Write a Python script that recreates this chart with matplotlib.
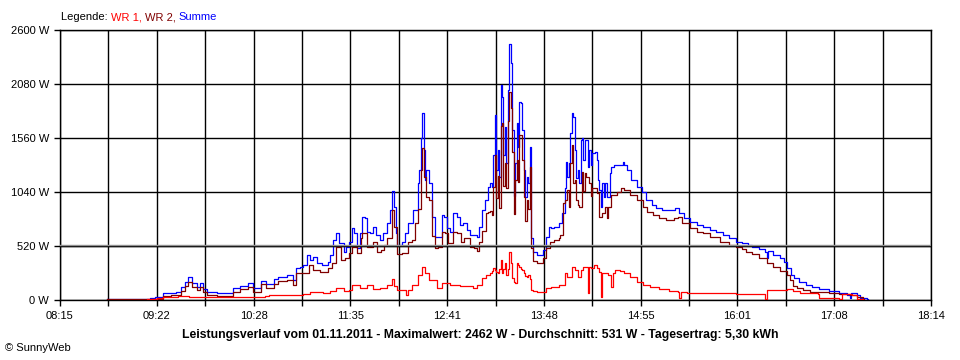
import matplotlib
matplotlib.use("Agg")
import matplotlib.pyplot as plt
from matplotlib.transforms import offset_copy

plt.rcParams['font.family'] = ['Liberation Sans', 'DejaVu Sans']
plt.rcParams['font.size'] = 8

# WR 1 (red)
wr1_times = ["09:15", "09:22", "09:26", "09:35", "09:36", "09:42", "09:44", "10:12", "10:15", "10:36",
             "10:39", "11:00", "11:02", "11:07", "11:16", "11:21", "11:25", "11:30", "11:34", "11:36",
             "11:41", "11:46", "11:50", "11:55", "12:00", "12:03", "12:05", "12:07", "12:12", "12:13",
             "12:14", "12:17", "12:21", "12:24", "12:26", "12:29", "12:34", "12:38", "12:43", "12:50",
             "12:59", "13:02", "13:05", "13:08", "13:11", "13:12", "13:13", "13:14", "13:15", "13:16",
             "13:17", "13:18", "13:19", "13:20", "13:21", "13:22", "13:23", "13:24", "13:25", "13:26",
             "13:27", "13:28", "13:29", "13:30", "13:31", "13:32", "13:33", "13:34", "13:35", "13:36",
             "13:37", "13:38", "13:39", "13:40", "13:43", "13:46", "13:49", "13:53", "13:58", "14:02",
             "14:04", "14:07", "14:09", "14:11", "14:13", "14:15", "14:17", "14:18", "14:19", "14:20",
             "14:22", "14:24", "14:26", "14:27", "14:28", "14:30", "14:32", "14:34", "14:35", "14:37",
             "14:40", "14:43", "14:47", "14:52", "14:56", "15:01", "15:07", "15:14", "15:20", "15:21",
             "15:22", "15:26", "15:35", "15:47", "16:00", "16:15", "16:20", "16:21", "16:35", "16:39",
             "16:44", "16:49", "16:56", "16:57", "17:04", "17:11", "17:13", "17:20", "17:23", "17:27"]
wr1 = [5, 15, 26, 28, 42, 42, 28, 28, 33, 35,
       45, 48, 61, 74, 67, 83, 116, 83, 99, 148,
       116, 148, 106, 116, 148, 205, 132, 99, 99, 52,
       99, 148, 244, 321, 257, 193, 116, 164, 140, 135,
       112, 144, 209, 241, 260, 280, 305, 290, 270, 257,
       300, 385, 257, 300, 353, 241, 300, 465, 353, 209,
       170, 161, 353, 340, 321, 300, 289, 260, 230, 225,
       241, 200, 96, 90, 80, 80, 112, 128, 144, 257,
       225, 321, 289, 225, 289, 321, 321, 64, 321, 305,
       337, 305, 270, 32, 257, 257, 241, 128, 257, 289,
       283, 257, 225, 177, 144, 122, 103, 90, 80, 20,
       80, 64, 64, 64, 58, 62, 5, 96, 103, 87,
       71, 64, 58, 16, 16, 10, 58, 48, 6, 0]

# WR 2 (dark red)
wr2_times = ["08:47", "09:03", "09:17", "09:22", "09:26", "09:31", "09:35", "09:38", "09:41", "09:43",
             "09:46", "09:49", "09:51", "09:53", "09:56", "10:03", "10:10", "10:14", "10:19", "10:24",
             "10:28", "10:33", "10:37", "10:42", "10:45", "10:51", "10:55", "10:57", "11:00", "11:02",
             "11:06", "11:09", "11:14", "11:19", "11:22", "11:25", "11:28", "11:31", "11:34", "11:36",
             "11:39", "11:42", "11:43", "11:46", "11:50", "11:53", "11:56", "11:58", "12:00", "12:03",
             "12:05", "12:07", "12:10", "12:14", "12:17", "12:19", "12:21", "12:23", "12:24", "12:25",
             "12:27", "12:29", "12:31", "12:33", "12:35", "12:38", "12:40", "12:42", "12:45", "12:48",
             "12:51", "12:53", "12:57", "13:00", "13:02", "13:03", "13:05", "13:08", "13:09", "13:11",
             "13:12", "13:13", "13:14", "13:15", "13:16", "13:17", "13:18", "13:19", "13:20", "13:21",
             "13:22", "13:23", "13:24", "13:25", "13:26", "13:27", "13:28", "13:29", "13:30", "13:31",
             "13:32", "13:33", "13:34", "13:35", "13:36", "13:37", "13:38", "13:39", "13:40", "13:43",
             "13:45", "13:47", "13:49", "13:52", "13:55", "13:58", "13:59", "14:01", "14:02", "14:04",
             "14:05", "14:06", "14:07", "14:08", "14:09", "14:10", "14:11", "14:12", "14:14", "14:15",
             "14:16", "14:17", "14:19", "14:20", "14:21", "14:23", "14:24", "14:26", "14:28", "14:30",
             "14:31", "14:32", "14:34", "14:38", "14:41", "14:43", "14:47", "14:49", "14:52", "14:56",
             "14:59", "15:03", "15:07", "15:12", "15:17", "15:20", "15:23", "15:28", "15:33", "15:37",
             "15:42", "15:49", "15:55", "16:00", "16:04", "16:07", "16:11", "16:16", "16:21", "16:25",
             "16:30", "16:35", "16:37", "16:39", "16:42", "16:46", "16:51", "16:57", "17:04", "17:11",
             "17:18", "17:23", "17:27", "17:28"]
wr2 = [5, 6, 12, 10, 40, 48, 52, 90, 135, 175,
       130, 100, 130, 78, 52, 42, 38, 80, 102, 128,
       80, 150, 120, 155, 180, 195, 148, 257, 260, 257,
       337, 289, 273, 305, 353, 514, 385, 401, 450, 514,
       450, 594, 642, 514, 562, 466, 482, 530, 600, 870,
       700, 440, 450, 560, 578, 738, 880, 1252, 1460, 1188,
       995, 960, 620, 498, 514, 658, 642, 546, 658, 642,
       562, 594, 514, 498, 470, 560, 660, 840, 850, 860,
       820, 1090, 1400, 980, 1190, 890, 1680, 1700, 1100, 1316,
       1075, 1720, 2000, 1850, 1430, 830, 1155, 1350, 1137, 1590,
       1590, 1350, 990, 765, 960, 880, 1277, 500, 380, 353,
       353, 400, 498, 560, 578, 600, 626, 931, 963, 1059,
       899, 1316, 1493, 1123, 1160, 963, 915, 900, 1236, 1050,
       1220, 1188, 1124, 1000, 1075, 1080, 1027, 800, 835, 899,
       787, 899, 1011, 1043, 1075, 1059, 1011, 1011, 963, 899,
       851, 819, 787, 771, 787, 803, 738, 690, 658, 642,
       610, 562, 530, 514, 488, 466, 444, 401, 353, 315,
       283, 241, 193, 135, 112, 96, 80, 74, 64, 58,
       48, 32, 6, 0]

# Summe (blue)
sum_times = ["08:47", "09:03", "09:17", "09:20", "09:22", "09:26", "09:31", "09:35", "09:38", "09:41",
             "09:43", "09:46", "09:49", "09:51", "09:53", "09:56", "10:03", "10:10", "10:14", "10:19",
             "10:24", "10:28", "10:33", "10:37", "10:42", "10:45", "10:51", "10:55", "10:57", "11:00",
             "11:02", "11:05", "11:07", "11:09", "11:12", "11:15", "11:19", "11:21", "11:23", "11:25",
             "11:27", "11:30", "11:32", "11:34", "11:36", "11:37", "11:39", "11:41", "11:43", "11:45",
             "11:46", "11:48", "11:50", "11:52", "11:55", "11:57", "12:00", "12:02", "12:03", "12:05",
             "12:06", "12:07", "12:10", "12:12", "12:14", "12:18", "12:21", "12:22", "12:23", "12:24",
             "12:25", "12:26", "12:27", "12:29", "12:31", "12:33", "12:35", "12:38", "12:39", "12:41",
             "12:43", "12:45", "12:48", "12:50", "12:52", "12:55", "12:57", "13:02", "13:03", "13:05",
             "13:07", "13:09", "13:11", "13:12", "13:13", "13:14", "13:15", "13:16", "13:17", "13:18",
             "13:19", "13:20", "13:21", "13:22", "13:23", "13:24", "13:25", "13:26", "13:27", "13:28",
             "13:29", "13:30", "13:31", "13:32", "13:33", "13:34", "13:35", "13:36", "13:37", "13:38",
             "13:39", "13:40", "13:43", "13:45", "13:47", "13:49", "13:51", "13:53", "13:55", "13:58",
             "14:00", "14:02", "14:03", "14:04", "14:05", "14:06", "14:07", "14:08", "14:09", "14:10",
             "14:11", "14:12", "14:13", "14:14", "14:15", "14:16", "14:18", "14:19", "14:20", "14:21",
             "14:23", "14:24", "14:25", "14:26", "14:27", "14:28", "14:29", "14:30", "14:31", "14:33",
             "14:34", "14:36", "14:38", "14:42", "14:43", "14:45", "14:48", "14:50", "14:52", "14:55",
             "14:58", "15:02", "15:05", "15:09", "15:14", "15:18", "15:21", "15:24", "15:28", "15:33",
             "15:37", "15:42", "15:46", "15:51", "15:55", "16:00", "16:04", "16:08", "16:11", "16:16",
             "16:20", "16:21", "16:22", "16:25", "16:30", "16:33", "16:35", "16:38", "16:40", "16:43",
             "16:48", "16:52", "16:57", "17:04", "17:11", "17:16", "17:18", "17:19", "17:23", "17:25",
             "17:30", "17:31"]
summe = [10, 12, 20, 30, 26, 64, 70, 80, 128, 177,
         218, 160, 128, 160, 106, 80, 70, 64, 112, 135,
         160, 112, 186, 154, 199, 225, 241, 193, 305, 321,
         337, 433, 385, 417, 353, 337, 369, 433, 578, 642,
         546, 466, 514, 562, 690, 642, 498, 642, 803, 787,
         658, 642, 706, 626, 578, 642, 738, 867, 1053, 899,
         642, 530, 562, 642, 738, 867, 1123, 1252, 1557, 1798,
         1445, 1156, 1252, 1123, 803, 610, 610, 819, 803, 690,
         658, 835, 802, 722, 738, 674, 626, 610, 706, 867,
         963, 1091, 1123, 1091, 1400, 1782, 1252, 1445, 1188, 2070,
         1958, 1400, 1669, 1316, 2022, 2462, 2279, 1637, 1000, 1316,
         1702, 1477, 1910, 1894, 1637, 1252, 995, 1188, 1123, 1477,
         600, 466, 433, 433, 482, 610, 706, 690, 706, 740,
         835, 1075, 1332, 1188, 1316, 1605, 1804, 1765, 1445, 1172,
         1252, 1123, 1541, 1557, 1348, 1541, 1284, 1445, 1300, 1412,
         1429, 1348, 1156, 1060, 899, 1123, 995, 1123, 995, 1220,
         1284, 1300, 1300, 1332, 1300, 1252, 1156, 1156, 1091, 1043,
         963, 915, 883, 867, 867, 883, 835, 787, 754, 722,
         706, 674, 658, 626, 594, 562, 552, 530, 507, 488,
         466, 401, 476, 433, 401, 369, 305, 241, 209, 177,
         144, 128, 103, 87, 71, 48, 16, 64, 48, 16,
         6, 0]

x_labels = ["08:15", "09:22", "10:28", "11:35", "12:41", "13:48", "14:55", "16:01", "17:08", "18:14"]
y_ticks = [0, 520, 1040, 1560, 2080, 2600]


def to_min(s):
    h, m = s.split(':')
    return int(h) * 60 + int(m)


t_start, t_end = to_min("08:15"), to_min("18:14")

fig = plt.figure(figsize=(9.6, 3.6), dpi=100)
ax = fig.add_axes([60 / 960, 60 / 360, 871 / 960, 270 / 360])

ax.plot([to_min(t) for t in sum_times], summe, color='#0000ff', lw=0.9,
        drawstyle='steps-post', zorder=2)
ax.plot([to_min(t) for t in wr2_times], wr2, color='#800000', lw=0.9,
        drawstyle='steps-post', zorder=3)
ax.plot([to_min(t) for t in wr1_times], wr1, color='#ff0000', lw=0.9,
        drawstyle='steps-post', zorder=4)

ax.set_xlim(t_start, t_end)
ax.set_ylim(0, 2600)

step = (t_end - t_start) / 18
xt = [t_start + k * step for k in range(19)]
ax.set_xticks(xt)
ax.set_xticklabels([x_labels[k // 2] if k % 2 == 0 else '' for k in range(19)])
ax.set_yticks(y_ticks)
ax.set_yticklabels([f"{v} W" for v in y_ticks])
ax.tick_params(direction='out', length=4, width=1, color='black', pad=4, labelsize=8)
ax.grid(True, color='black', lw=1, zorder=1)
ax.set_axisbelow(True)
for sp in ax.spines.values():
    sp.set_linewidth(1)

# 520 W line drawn over the curves, with a grey line just above it
ax.axhline(520, color='black', lw=1, zorder=6)
ax.plot([0, 1], [520, 520], color='#909090', lw=1, zorder=6,
        transform=offset_copy(ax.get_yaxis_transform(), fig=fig, y=1.2, units='dots'))

# legend line at the top
t = fig.text(61 / 960, 1 - 17 / 360, "Legende: ", color='black', va='center', fontsize=8)
for txt, col in [("WR 1, ", '#ff0000'), ("WR 2, ", '#800000'), ("Summe", '#0000ff')]:
    t = ax.annotate(txt, xy=(1, 0), xycoords=t, va='bottom', ha='left', color=col, fontsize=8)

fig.text(0.5, 25 / 360, "Leistungsverlauf vom 01.11.2011 - Maximalwert: 2462 W - Durchschnitt: 531 W - "
         "Tagesertrag: 5,30 kWh", ha='center', va='center', fontsize=8.8, fontweight='bold')
fig.text(5 / 960, 12 / 360, "\u00a9 SunnyWeb", ha='left', va='center', fontsize=8)

fig.savefig("out.png", dpi=100)
